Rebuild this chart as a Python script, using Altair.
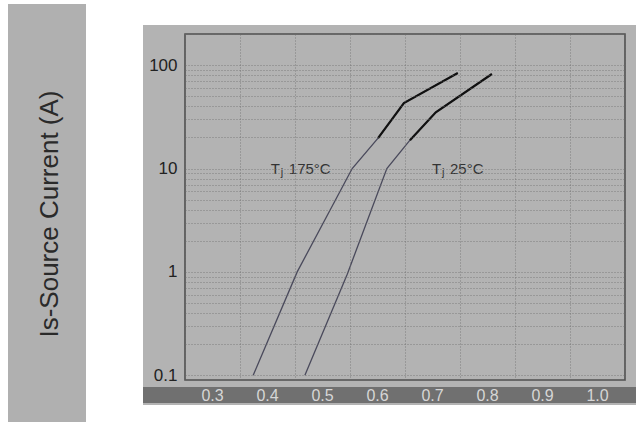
import altair as alt
import pandas as pd

# Forward voltage (V) vs source current (A)
v175 = [0.374, 0.454, 0.554, 0.601, 0.648, 0.746]
i175 = [0.10, 1.00, 10.0, 19.7, 43.0, 84.0]
v25 = [0.468, 0.545, 0.617, 0.659, 0.706, 0.808]
i25 = [0.10, 0.95, 10.0, 18.8, 35.0, 82.0]

x_ticks = [0.25, 0.3, 0.35, 0.4, 0.45, 0.5, 0.55, 0.6, 0.65, 0.7, 0.75,
           0.8, 0.85, 0.9, 0.95, 1.0, 1.05]
x_labels = [0.3, 0.4, 0.5, 0.6, 0.7, 0.8, 0.9, 1.0]
x_label_text = ["0.3", "0.4", "0.5", "0.6", "0.7", "0.8", "0.9", "1.0"]
y_ticks = [0.1, 0.2, 0.3, 0.4, 0.5, 0.6, 0.7, 0.8, 0.9,
           1, 2, 3, 4, 5, 6, 7, 8, 9,
           10, 20, 30, 40, 50, 60, 70, 80, 90, 100, 200]
y_labels = [0.1, 1, 10, 100]

curve_names = ["Tj 175°C", "Tj 25°C"]
label_v = [0.406, 0.699]
label_i = [10.0, 10.0]
label_temp = ["175°C", "25°C"]

y_title = "Is-Source Current (A)"

rows = []
for v, i in zip(v175, i175):
    rows.append({"curve": curve_names[0], "voltage": v, "current": i})
for v, i in zip(v25, i25):
    rows.append({"curve": curve_names[1], "voltage": v, "current": i})
df = pd.DataFrame(rows)

lab = pd.DataFrame({"voltage": label_v, "current": label_i, "temp": label_temp})
xl = pd.DataFrame({"voltage": x_labels, "txt": x_label_text})

W, H = 440, 346
FONT = "Liberation Sans"

x_scale = alt.Scale(domain=[0.25, 1.05], nice=False, zero=False)
y_scale = alt.Scale(type="log", domain=[0.09, 200], nice=False)

ylab_expr = "indexof([" + ",".join(str(v) for v in y_labels) + "], datum.value) >= 0 ? datum.label : ''"

x_axis = alt.Axis(values=x_ticks, labels=False, title=None, domain=False,
                  ticks=False, grid=True, gridDash=[1, 2], gridColor="#6c6c6c",
                  gridOpacity=0.75, zindex=1)
y_axis = alt.Axis(values=y_ticks, labelExpr=ylab_expr, title=None, domain=False,
                  ticks=False, grid=True, gridDash=[1, 2], gridColor="#6c6c6c",
                  gridOpacity=0.75, labelFontSize=17, labelColor="#222222",
                  labelFont=FONT, labelPadding=8, zindex=1, format="~g",
                  labelOverlap=False)

one = pd.DataFrame({"a": [0]})

left_box = alt.Chart(one).mark_rect(color="#b0b0b0").encode(
    x=alt.value(-177), x2=alt.value(-99), y=alt.value(-30), y2=alt.value(388))
panel = alt.Chart(one).mark_rect(color="#b3b3b3").encode(
    x=alt.value(-42), x2=alt.value(451), y=alt.value(-9), y2=alt.value(371))
strip = alt.Chart(one).mark_rect(color="#707070").encode(
    x=alt.value(-42), x2=alt.value(451), y=alt.value(353), y2=alt.value(369))
frame = alt.Chart(one).mark_rect(fill=None, stroke="#505050", strokeWidth=1.6).encode(
    x=alt.value(0), x2=alt.value(W), y=alt.value(0), y2=alt.value(H))
title_txt = alt.Chart(one).mark_text(
    text=y_title, angle=270, fontSize=26, font=FONT, color="#2a2a2a",
    align="center", baseline="middle").encode(x=alt.value(-135), y=alt.value(180))

base = alt.Chart(df).encode(
    x=alt.X("voltage:Q", scale=x_scale, axis=x_axis),
    y=alt.Y("current:Q", scale=y_scale, axis=y_axis),
    detail="curve:N",
)
thin = base.mark_line(color="#4a4a5c", strokeWidth=1.3)
thick = base.transform_filter("datum.current >= 18").mark_line(color="#111111", strokeWidth=2.2)

xlab_txt = alt.Chart(xl).mark_text(
    fontSize=16, font=FONT, color="#d6d6d6", align="center", baseline="middle"
).encode(x=alt.X("voltage:Q", scale=x_scale), y=alt.value(362), text="txt:N")

lb = alt.Chart(lab).encode(
    x=alt.X("voltage:Q", scale=x_scale),
    y=alt.Y("current:Q", scale=y_scale),
)
t_txt = lb.mark_text(text="T", fontSize=15, font=FONT, color="#333333",
                     align="left", baseline="middle")
j_txt = lb.mark_text(text="j", fontSize=11, font=FONT, color="#333333",
                     align="left", baseline="middle", dx=10, dy=4)
temp_txt = lb.mark_text(fontSize=15, font=FONT, color="#333333",
                        align="left", baseline="middle", dx=18).encode(text="temp:N")

chart = alt.layer(left_box, panel, strip, frame, title_txt, thin, thick,
                  xlab_txt, t_txt, j_txt, temp_txt).properties(
    width=W, height=H,
    autosize=alt.AutoSizeParams(type="none"),
    padding={"left": 185, "top": 34, "right": 11, "bottom": 42},
    background="white",
).configure_view(stroke=None)

chart.save("out.html", embed_options={"renderer": "svg", "actions": False})
